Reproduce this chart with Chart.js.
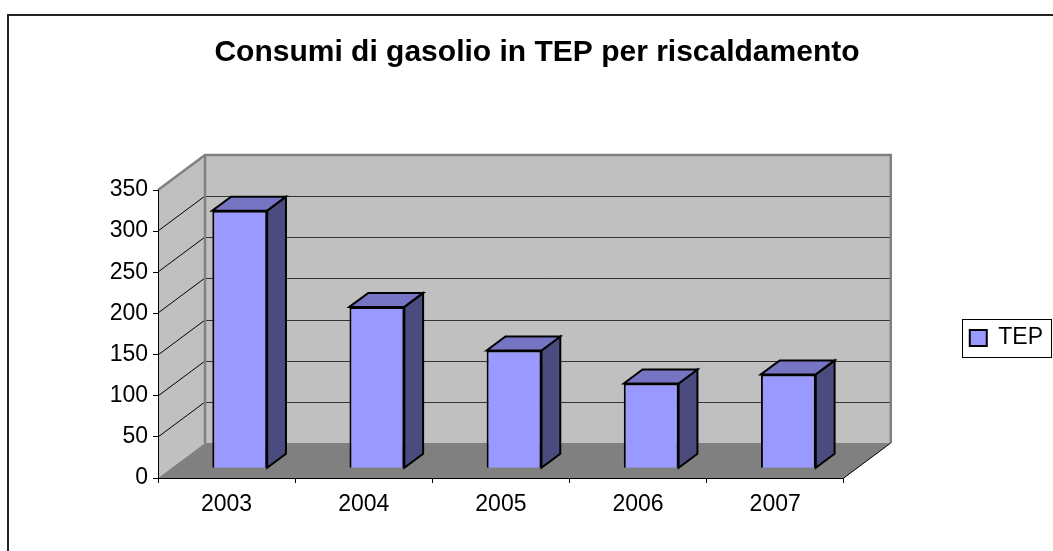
<!DOCTYPE html>
<html>
<head>
<meta charset="utf-8">
<title>Consumi di gasolio in TEP per riscaldamento</title>
<script src="https://cdn.jsdelivr.net/npm/chart.js@4.4.0/dist/chart.umd.min.js"></script>
<style>
    html, body { margin: 0; padding: 0; background: #fff; overflow: hidden; }
    canvas { display: block; }
</style>
</head>
<body>
<canvas id="tepChart" width="1053" height="551"></canvas>
<script>
var categories = ['2003', '2004', '2005', '2006', '2007'];
var tepValues = [313, 196, 143, 103, 114];
var yTickMax = 350;
var yTickStep = 50;

// 3D look: depth of the floor/walls and where the bars sit inside it
var depthX = 47, depthY = 35;
var barFront = 0.28, barDepth = 0.4;

var wall3d = {
    id: 'wall3d',
    beforeDraw: function(chart) {
        var ctx = chart.ctx, ca = chart.chartArea, y = chart.scales.y;
        var y0 = y.getPixelForValue(0), yTop = y.getPixelForValue(yTickMax);
        ctx.save();

        // outer frame of the chart object
        ctx.strokeStyle = '#222';
        ctx.lineWidth = 2;
        ctx.strokeRect(8, 15, 1100, 600);

        // back wall + side wall
        ctx.fillStyle = '#c0c0c0';
        ctx.fillRect(ca.left + depthX, yTop - depthY, ca.right - ca.left, y0 - yTop);
        ctx.beginPath();
        ctx.moveTo(ca.left, y0);
        ctx.lineTo(ca.left + depthX, y0 - depthY);
        ctx.lineTo(ca.left + depthX, yTop - depthY);
        ctx.lineTo(ca.left, yTop);
        ctx.closePath();
        ctx.fill();

        // floor
        ctx.fillStyle = '#808080';
        ctx.beginPath();
        ctx.moveTo(ca.left, y0);
        ctx.lineTo(ca.right, y0);
        ctx.lineTo(ca.right + depthX, y0 - depthY);
        ctx.lineTo(ca.left + depthX, y0 - depthY);
        ctx.closePath();
        ctx.fill();

        // gridlines on back wall and side wall
        ctx.lineWidth = 1;
        y.ticks.forEach(function(t) {
            if (t.value <= 0 || t.value >= yTickMax) return;
            var py = Math.round(y.getPixelForValue(t.value));
            ctx.strokeStyle = '#333';
            ctx.beginPath();
            ctx.moveTo(ca.left + depthX, py - depthY + 0.5);
            ctx.lineTo(ca.right + depthX, py - depthY + 0.5);
            ctx.stroke();
            ctx.strokeStyle = '#000';
            ctx.beginPath();
            ctx.moveTo(ca.left, py);
            ctx.lineTo(ca.left + depthX, py - depthY);
            ctx.stroke();
        });

        // wall edges
        ctx.strokeStyle = '#808080';
        ctx.lineWidth = 2.5;
        ctx.beginPath();
        ctx.moveTo(ca.left, yTop);
        ctx.lineTo(ca.left + depthX, yTop - depthY);
        ctx.lineTo(ca.right + depthX, yTop - depthY);
        ctx.lineTo(ca.right + depthX, y0 - depthY);
        ctx.moveTo(ca.left + depthX, yTop - depthY);
        ctx.lineTo(ca.left + depthX, y0 - depthY);
        ctx.stroke();

        // right edge of the floor
        ctx.strokeStyle = '#000';
        ctx.lineWidth = 1;
        ctx.beginPath();
        ctx.moveTo(ca.right, y0);
        ctx.lineTo(ca.right + depthX, y0 - depthY);
        ctx.stroke();
        ctx.restore();
    },
    beforeDatasetsDraw: function(chart) {
        var ctx = chart.ctx;
        var ox = barFront * depthX, oy = barFront * depthY;
        var bx = barDepth * depthX, by = barDepth * depthY;
        ctx.save();
        ctx.strokeStyle = '#000';
        ctx.lineWidth = 2;
        chart.getDatasetMeta(0).data.forEach(function(bar) {
            var p = bar.getProps(['x', 'y', 'base', 'width'], true);
            var l = p.x - p.width / 2 + ox, r = p.x + p.width / 2 + ox;
            var t = p.y - oy, b = p.base - oy;
            // side face
            ctx.fillStyle = '#4b4b80';
            ctx.beginPath();
            ctx.moveTo(r, t);
            ctx.lineTo(r + bx, t - by);
            ctx.lineTo(r + bx, b - by);
            ctx.lineTo(r, b);
            ctx.closePath();
            ctx.fill();
            ctx.stroke();
            // top face
            ctx.fillStyle = '#7575c4';
            ctx.beginPath();
            ctx.moveTo(l, t);
            ctx.lineTo(l + bx, t - by);
            ctx.lineTo(r + bx, t - by);
            ctx.lineTo(r, t);
            ctx.closePath();
            ctx.fill();
            ctx.stroke();
        });
        ctx.restore();
        // front faces are drawn by Chart.js, pushed into the depth
        ctx.save();
        ctx.translate(ox, -oy);
    },
    afterDatasetsDraw: function(chart) {
        chart.ctx.restore();
    },
    afterDraw: function(chart) {
        // frame around the legend
        var hb = chart.legend.legendHitBoxes[0];
        if (!hb) return;
        var ctx = chart.ctx;
        var left = Math.round(hb.left - 8) + 0.5;
        var top = Math.round(hb.top + hb.height / 2 - 19) + 0.5;
        var right = Math.min(Math.round(hb.left + hb.width + 10), chart.width - 2) + 0.5;
        ctx.save();
        ctx.strokeStyle = '#000';
        ctx.lineWidth = 1;
        ctx.strokeRect(left, top, right - left, 38);
        ctx.restore();
    }
};

Chart.defaults.font.family = '"Liberation Sans", Arial, sans-serif';
Chart.defaults.color = '#000';

new Chart(document.getElementById('tepChart'), {
    type: 'bar',
    data: {
        labels: categories,
        datasets: [{
            label: 'TEP',
            data: tepValues,
            backgroundColor: '#9999ff',
            borderColor: '#000',
            borderWidth: 2,
            categoryPercentage: 1,
            barPercentage: 0.4
        }]
    },
    options: {
        responsive: false,
        animation: false,
        layout: {
            padding: { left: 21, right: 0, top: 0, bottom: 0 }
        },
        plugins: {
            title: {
                display: true,
                text: 'Consumi di gasolio in TEP per riscaldamento',
                font: { size: 30, weight: 'bold' },
                color: '#000',
                padding: { top: 35, bottom: 119 }
            },
            legend: {
                position: 'right',
                fullSize: false,
                // empty title only nudges the entry a few pixels down
                title: { display: true, text: ' ', font: { size: 1 }, padding: { top: 3, bottom: 4 } },
                labels: {
                    boxWidth: 17,
                    boxHeight: 16,
                    padding: 126,
                    font: { size: 23 }
                }
            },
            tooltip: { enabled: false }
        },
        scales: {
            x: {
                grid: { offset: true, drawOnChartArea: false, tickLength: 5, color: '#000' },
                border: { color: '#000' },
                ticks: { font: { size: 23 }, padding: 8 },
                afterFit: function(scale) { scale.height = 73; }
            },
            y: {
                min: 0,
                max: yTickMax,
                grid: { drawOnChartArea: false, tickLength: 5, color: '#000' },
                border: { color: '#000' },
                ticks: { stepSize: yTickStep, font: { size: 23 }, padding: 5 },
                afterFit: function(scale) { scale.width = 137; }
            }
        }
    },
    plugins: [wall3d]
});
</script>
</body>
</html>
